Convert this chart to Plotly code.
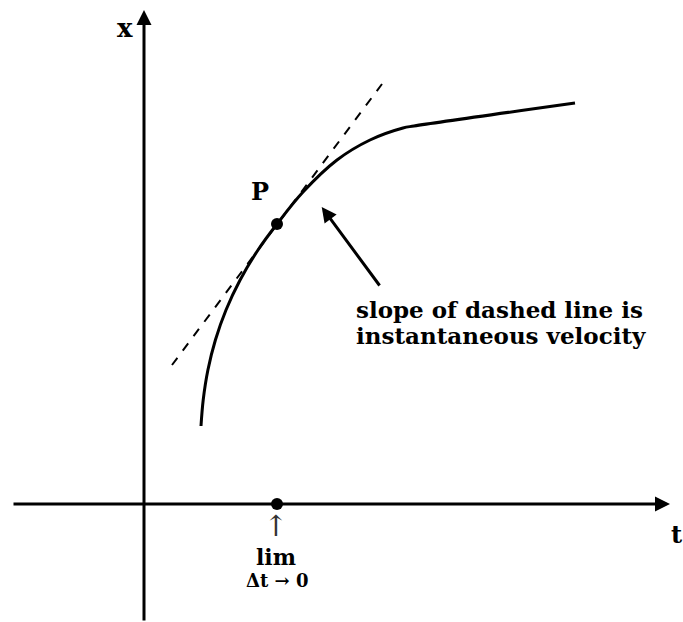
import plotly.graph_objects as go

# position-time curve (t, x), in arbitrary units
curve_t = [5.7, 5.92, 6.39, 7.14, 8.2, 9.61, 11.4, 13.3, 15.9, 19.3, 22.6, 25.9, 27.0, 43.1]
curve_x = [7.8, 10.4, 13.4, 16.4, 19.4, 22.4, 25.4, 28.0, 31.2, 34.4, 36.4, 37.6, 37.8, 40.1]

# tangent line at P
tangent_t = [2.8, 23.8]
tangent_x = [13.9, 42.0]

# point P and its projection on the t axis
p_t, p_x = 13.3, 28.0

# axis extents
t_axis = [-13.2, 52.6]
x_axis = [-11.8, 49.4]

# pointer arrow (tail -> tip)
arrow_tail = (23.67, 21.7)
arrow_tip = (17.77, 29.7)

FONT = "DejaVu Serif"

fig = go.Figure()

fig.add_trace(go.Scatter(x=curve_t, y=curve_x, mode="lines",
                         line=dict(color="black", width=3, shape="spline", smoothing=1.0),
                         hoverinfo="skip"))
fig.add_trace(go.Scatter(x=tangent_t, y=tangent_x, mode="lines",
                         line=dict(color="black", width=2, dash="dash"),
                         hoverinfo="skip"))
fig.add_trace(go.Scatter(x=[p_t, p_t], y=[p_x, 0], mode="markers",
                         marker=dict(color="black", size=12),
                         hoverinfo="skip"))

# axes with arrowheads
fig.add_annotation(x=0, y=x_axis[1], ax=0, ay=x_axis[0], xref="x", yref="y",
                   axref="x", ayref="y", text="", showarrow=True,
                   arrowhead=2, arrowsize=1, arrowwidth=3, arrowcolor="black")
fig.add_annotation(x=t_axis[1], y=0, ax=t_axis[0], ay=0, xref="x", yref="y",
                   axref="x", ayref="y", text="", showarrow=True,
                   arrowhead=2, arrowsize=1, arrowwidth=3, arrowcolor="black")
# pointer to the curve
fig.add_annotation(x=arrow_tip[0], y=arrow_tip[1], ax=arrow_tail[0], ay=arrow_tail[1],
                   xref="x", yref="y", axref="x", ayref="y", text="", showarrow=True,
                   arrowhead=2, arrowsize=1, arrowwidth=3, arrowcolor="black")

labels = [
    ("<b>x</b>", -1.9, 47.6, 26),
    ("<b>t</b>", 53.25, -3.0, 24),
    ("<b>P</b>", 11.6, 31.3, 24),
    # up arrow and "lim" share one text block so they stack cleanly
    ("<span style='font-size:29px;font-weight:normal;color:#333333'>\u2191</span>"
     "<br><b>lim</b>", 13.2, -3.55, 22),
    ("<b>\u0394t \u2192 0</b>", 13.3, -7.6, 18),
]
for txt, tx, ty, size in labels:
    fig.add_annotation(x=tx, y=ty, text=txt, showarrow=False,
                       xanchor="center", yanchor="middle",
                       font=dict(family=FONT, size=size, color="black"))

# two-line caption, one annotation per line to keep the tight line spacing
caption = ["slope of dashed line is", "instantaneous velocity"]
caption_y = [19.5, 16.9]
for line, cy in zip(caption, caption_y):
    fig.add_annotation(x=21.0, y=cy, xanchor="left", yanchor="middle",
                       text="<b>" + line + "</b>", showarrow=False,
                       font=dict(family=FONT, size=23, color="black"))

fig.update_layout(
    width=683, height=622,
    margin=dict(l=0, r=0, t=0, b=0),
    plot_bgcolor="white", paper_bgcolor="white",
    showlegend=False,
    xaxis=dict(range=[-14.4, 53.9], visible=False, fixedrange=True),
    yaxis=dict(range=[-11.8, 50.4], visible=False, fixedrange=True),
)

# drop the default body margin so the figure fills the window exactly
fig.write_html("out.html", config={"displayModeBar": False},
               post_script="document.body.style.margin='0';")
